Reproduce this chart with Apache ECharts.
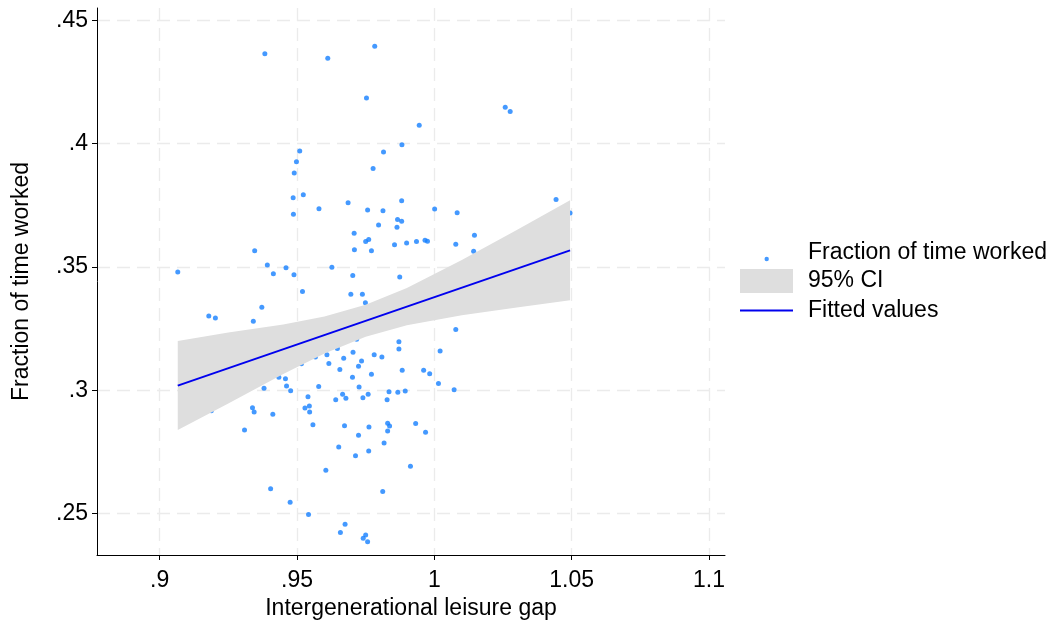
<!DOCTYPE html>
<html>
<head>
<meta charset="utf-8">
<script src="https://cdn.jsdelivr.net/npm/echarts@6/dist/echarts.min.js"></script>
<style>
  html, body { margin: 0; padding: 0; background: #fff; }
  #chart { width: 1054px; height: 627px; }
</style>
</head>
<body>
<div id="chart"></div>
<script>
// 散点数据 [代际闲暇差距, 工作时间占比]
const workPoints = [
  [0.9383, 0.4364], [0.9510, 0.3970], [0.9498, 0.3927], [0.9490, 0.3881], [0.9486, 0.3781],
  [0.9487, 0.3714], [0.9346, 0.3566], [0.9066, 0.3480], [0.9392, 0.3508], [0.9414, 0.3472],
  [0.9460, 0.3497], [0.9489, 0.3468],
  [0.9783, 0.4395], [0.9612, 0.4346], [0.9753, 0.4185], [0.9945, 0.4075], [0.9882, 0.3995],
  [0.9815, 0.3966], [0.9777, 0.3899], [0.9523, 0.3793], [0.9686, 0.3760], [0.9580, 0.3736],
  [0.9881, 0.3768], [0.9757, 0.3731], [0.9813, 0.3728], [1.0001, 0.3735],
  [0.9708, 0.3637], [0.9797, 0.3670], [0.9866, 0.3692], [0.9881, 0.3685], [0.9864, 0.3661],
  [0.9750, 0.3603], [0.9761, 0.3611], [0.9709, 0.3570], [0.9771, 0.3566], [0.9855, 0.3590],
  [0.9899, 0.3597], [0.9935, 0.3603], [0.9966, 0.3608], [0.9975, 0.3604],
  [0.9627, 0.3499], [0.9703, 0.3465], [0.9874, 0.3459],
  [1.0258, 0.4148], [1.0276, 0.4130], [1.0083, 0.3720], [1.0443, 0.3773], [1.0494, 0.3719],
  [1.0146, 0.3629], [1.0078, 0.3592], [1.0143, 0.3564],
  [0.9179, 0.3301], [0.9203, 0.3293], [0.9372, 0.3337], [0.9341, 0.3280], [0.9434, 0.3053],
  [0.9458, 0.3047], [0.9380, 0.3008], [0.9462, 0.3017], [0.9477, 0.2998], [0.9188, 0.2917],
  [0.9338, 0.2929], [0.9344, 0.2912], [0.9412, 0.2903], [0.9309, 0.2839], [0.9404, 0.2601],
  [0.9475, 0.2546],
  [0.9520, 0.3400], [0.9696, 0.3389], [0.9738, 0.3389], [0.9749, 0.3355], [0.9871, 0.3197],
  [0.9871, 0.3167], [1.0021, 0.3159], [0.9717, 0.3207], [0.9647, 0.3169], [0.9609, 0.3144],
  [0.9567, 0.3135], [0.9516, 0.3107], [0.9704, 0.3154], [0.9670, 0.3130], [0.9781, 0.3144],
  [0.9809, 0.3135], [0.9735, 0.3119], [0.9616, 0.3108], [0.9724, 0.3097], [0.9656, 0.3084],
  [0.9883, 0.3081], [0.9961, 0.3081], [0.9983, 0.3067], [0.9771, 0.3065], [0.9702, 0.3053],
  [1.0015, 0.3027], [0.9579, 0.3015], [0.9726, 0.3013], [0.9835, 0.2994], [0.9867, 0.2992],
  [0.9894, 0.2997], [0.9666, 0.2984], [0.9759, 0.2984], [0.9540, 0.2974], [0.9678, 0.2968],
  [0.9740, 0.2970], [0.9641, 0.2962], [0.9828, 0.2962], [0.9529, 0.2928], [0.9545, 0.2936],
  [0.9546, 0.2912], [0.9558, 0.2860], [0.9673, 0.2856], [0.9762, 0.2851], [0.9830, 0.2866],
  [0.9837, 0.2855], [0.9830, 0.2835], [0.9932, 0.2865], [0.9968, 0.2830], [0.9724, 0.2818],
  [0.9817, 0.2786], [0.9652, 0.2770], [0.9761, 0.2754], [0.9713, 0.2734], [0.9913, 0.2692],
  [0.9605, 0.2676], [0.9812, 0.2589], [0.9542, 0.2496], [0.9675, 0.2457], [0.9658, 0.2423],
  [0.9750, 0.2413], [0.9741, 0.2400], [0.9757, 0.2386],
  [1.0078, 0.3246], [1.0072, 0.3002]
];

// 拟合直线的两个端点
const fitX = [0.9066, 1.0494];
const fitY = [0.3019, 0.3567];

// 95% 置信区间（从图上读取的上下边界）
const ciX = [0.9066, 0.925, 0.945, 0.96, 0.975, 0.99, 1.01, 1.03, 1.0494];
const ciLow = [0.2839, 0.2946, 0.3066, 0.3149, 0.3217, 0.3264, 0.3304, 0.3336, 0.3365];
const ciHigh = [0.3200, 0.3234, 0.3267, 0.3299, 0.3347, 0.3415, 0.3528, 0.3650, 0.3770];

// 刻度
const xTicks = [0.9, 0.95, 1, 1.05, 1.1];
const yTicks = [0.25, 0.3, 0.35, 0.4, 0.45];

const FONT = 'Liberation Sans, Arial, Helvetica, sans-serif';
const DOT_COLOR = '#1580ff';
const LINE_COLOR = '#0000ee';
const stripZero = v => String(+v.toFixed(4)).replace(/^0\./, '.');

const gridLine = {
    show: true,
    lineStyle: { color: '#ebebeb', width: 1.3, type: [13, 7] }
};

// 图例：三个独立图例，各自控制图标大小
const legendText = { fontSize: 23, color: '#000', fontFamily: FONT, padding: [0, 0, 0, 10] };

const chart = echarts.init(document.getElementById('chart'));

const option = {
    animation: false,
    backgroundColor: '#fff',
    textStyle: { fontFamily: FONT },
    grid: { left: 97, right: 329, top: 8, bottom: 72 },
    legend: [
        {
            // 小圆点放在 53x20 的框里（M 点撑开包围盒），略低于文字中线
            data: [{
                name: 'Fraction of time worked',
                icon: 'path://M0,0M53,20M24.5,16.5a2.2,2.2 0 1,0 4.4,0a2.2,2.2 0 1,0 -4.4,0Z'
            }],
            left: 740, top: 241, padding: 0,
            itemWidth: 53, itemHeight: 20,
            symbolKeepAspect: true,
            itemStyle: { color: DOT_COLOR },
            textStyle: legendText
        },
        {
            data: [{ name: '95% CI', icon: 'rect' }],
            left: 740, top: 269, padding: 0,
            itemWidth: 53, itemHeight: 24,
            textStyle: legendText
        },
        {
            data: [{ name: 'Fitted values', icon: 'path://M0,0 L53,0 L53,2 L0,2 Z' }],
            left: 740, top: 299, padding: 0,
            itemWidth: 53, itemHeight: 24,
            symbolKeepAspect: true,
            itemStyle: { color: LINE_COLOR },
            textStyle: legendText
        }
    ],
    xAxis: {
        type: 'value',
        min: 0.8772,
        max: 1.1058,
        name: 'Intergenerational leisure gap',
        nameLocation: 'middle',
        nameGap: 42,
        nameTextStyle: { fontSize: 23, color: '#000', fontFamily: FONT },
        axisLine: { show: true, lineStyle: { color: '#000', width: 1 } },
        axisTick: { show: true, length: 5, customValues: xTicks, lineStyle: { color: '#000' } },
        axisLabel: {
            customValues: xTicks, fontSize: 23, color: '#000', margin: 14,
            fontFamily: FONT, formatter: stripZero
        },
        splitLine: gridLine
    },
    yAxis: {
        type: 'value',
        min: 0.2332,
        max: 0.455,
        name: 'Fraction of time worked',
        nameLocation: 'middle',
        nameGap: 64,
        nameRotate: 90,
        nameTextStyle: { fontSize: 23, color: '#000', fontFamily: FONT },
        axisLine: { show: true, lineStyle: { color: '#000', width: 1 } },
        axisTick: { show: true, length: 5, customValues: yTicks, lineStyle: { color: '#000' } },
        axisLabel: {
            customValues: yTicks, fontSize: 23, color: '#000', margin: 9,
            fontFamily: FONT, formatter: stripZero
        },
        splitLine: gridLine
    },
    series: [
        {
            name: 'Fraction of time worked',
            type: 'scatter',
            z: 2,
            symbolSize: 5,
            itemStyle: { color: DOT_COLOR },
            data: workPoints
        },
        {
            // 置信带：整块多边形一次画完
            name: '95% CI',
            type: 'custom',
            z: 3,
            itemStyle: { color: '#dedede' },
            data: ciX.map((x, i) => [x, ciLow[i], ciHigh[i]]),
            encode: { x: 0, y: [1, 2] },
            renderItem: (params, api) => {
                if (params.dataIndex !== 0) return null;
                const upper = ciX.map((x, i) => api.coord([x, ciHigh[i]]));
                const lower = ciX.map((x, i) => api.coord([x, ciLow[i]])).reverse();
                return {
                    type: 'polygon',
                    shape: { points: upper.concat(lower) },
                    style: { fill: '#dedede' }
                };
            }
        },
        {
            name: 'Fitted values',
            type: 'line',
            z: 4,
            symbol: 'none',
            lineStyle: { color: LINE_COLOR, width: 2 },
            itemStyle: { color: LINE_COLOR },
            data: fitX.map((x, i) => [x, fitY[i]])
        }
    ]
};

chart.setOption(option);
</script>
</body>
</html>
